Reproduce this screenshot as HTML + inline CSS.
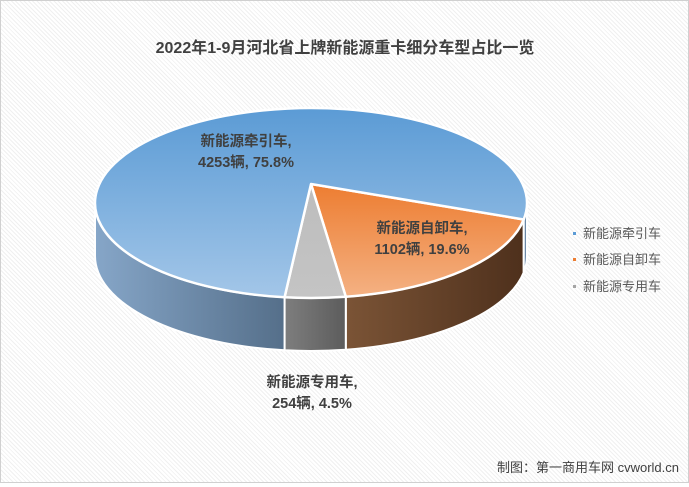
<!DOCTYPE html>
<html><head><meta charset="utf-8"><style>
body{margin:0;width:689px;height:483px;overflow:hidden;font-family:"Liberation Sans","Noto Sans CJK SC",sans-serif;}
#wrap{position:absolute;left:0;top:0;width:687px;height:481px;border:1px solid #d0d0d0;background:repeating-linear-gradient(45deg,#ffffff 0px,#ffffff 2px,#f0f0f0 2px,#f0f0f0 3px);}
</style></head><body>
<div id="wrap">
<svg id="svg" width="687" height="481">
<defs>
<linearGradient id="gt0" x1="0" y1="0" x2="0" y2="1"><stop offset="0" stop-color="#ed7d31"/><stop offset="1" stop-color="#f4b183"/></linearGradient>
<linearGradient id="gt1" x1="0" y1="0" x2="0" y2="1"><stop offset="0" stop-color="#bdbdbd"/><stop offset="1" stop-color="#c4c4c4"/></linearGradient>
<linearGradient id="gt2" x1="0" y1="0" x2="0" y2="1"><stop offset="0" stop-color="#5b9bd5"/><stop offset="1" stop-color="#a3c6e8"/></linearGradient>
<linearGradient id="gs0" x1="0" y1="0" x2="1" y2="0"><stop offset="0" stop-color="#7b5436"/><stop offset="1" stop-color="#4e301c"/></linearGradient>
<linearGradient id="gs1" x1="0" y1="0" x2="1" y2="0"><stop offset="0" stop-color="#7e7e7e"/><stop offset="1" stop-color="#5c5c5c"/></linearGradient>
<linearGradient id="gs2" x1="0" y1="0" x2="1" y2="0"><stop offset="0" stop-color="#86a6c8"/><stop offset="1" stop-color="#556f8a"/></linearGradient>
</defs>
<text x="344" y="52" text-anchor="middle" font-size="16" font-weight="bold" fill="#404040">2022年1-9月河北省上牌新能源重卡细分车型占比一览</text>
<g id="pie"></g>
<text x="245" y="145" text-anchor="middle" font-size="14.5" font-weight="bold" fill="#404040"><tspan x="245">新能源牵引车,</tspan><tspan x="245" dy="21">4253辆, 75.8%</tspan></text>
<text x="421" y="232" text-anchor="middle" font-size="14.5" font-weight="bold" fill="#404040"><tspan x="421">新能源自卸车,</tspan><tspan x="421" dy="21">1102辆, 19.6%</tspan></text>
<text x="311" y="386" text-anchor="middle" font-size="14.5" font-weight="bold" fill="#404040"><tspan x="311">新能源专用车,</tspan><tspan x="311" dy="21">254辆, 4.5%</tspan></text>
<g>
<rect x="572" y="231" width="3" height="3" fill="#5b9bd5"/><text x="582" y="237" font-size="13" fill="#595959">新能源牵引车</text>
<rect x="572" y="257" width="3" height="3" fill="#ed7d31"/><text x="582" y="263" font-size="13" fill="#595959">新能源自卸车</text>
<rect x="572" y="284" width="3" height="3" fill="#a5a5a5"/><text x="582" y="290" font-size="13" fill="#595959">新能源专用车</text>
</g>
<text x="678" y="471" text-anchor="end" font-size="13" fill="#404040">制图：第一商用车网 cvworld.cn</text>
</svg>
</div>
<script>
const categories=["新能源自卸车","新能源专用车","新能源牵引车"];
const values=[1102,254,4253];
const cx=310,cy=202,rx=216,ry=95,depth=53,startDeg=10,apexX=310,apexY=183;
const g=document.getElementById('pie');
const NS='http://www.w3.org/2000/svg';
const total=values.reduce((a,b)=>a+b,0);
function pt(a,dy){return [cx+rx*Math.cos(a),cy+ry*Math.sin(a)+(dy||0)];}
let angs=[];let a=startDeg*Math.PI/180;
values.forEach(v=>{const s=a;a+=v/total*2*Math.PI;angs.push([s,a]);});
angs.forEach((r,i)=>{
  for(let k=0;k<2;k++){
    const off=k*2*Math.PI;
    let s=Math.max(r[0]-off,0),e=Math.min(r[1]-off,Math.PI);
    if(e<=s) continue;
    const p1=pt(s),p2=pt(e),p3=pt(e,depth),p4=pt(s,depth);
    const d=`M${p1}A${rx},${ry} 0 0 1 ${p2}L${p3}A${rx},${ry} 0 0 0 ${p4}Z`;
    const p=document.createElementNS(NS,'path');
    p.setAttribute('d',d);p.setAttribute('fill',`url(#gs${i})`);p.setAttribute('stroke','#fff');p.setAttribute('stroke-width','2');
    
    
    g.appendChild(p);
  }
});
angs.forEach((r,i)=>{
  const p1=pt(r[0]),p2=pt(r[1]);const large=(r[1]-r[0])>Math.PI?1:0;
  const p=document.createElementNS(NS,'path');
  p.setAttribute('d',`M${apexX},${apexY}L${p1}A${rx},${ry} 0 ${large} 1 ${p2}Z`);
  p.setAttribute('fill',`url(#gt${i})`);p.setAttribute('stroke','#fff');p.setAttribute('stroke-width','2.5');p.setAttribute('stroke-linejoin','round');
  
  
  g.appendChild(p);
});
</script>
</body></html>
